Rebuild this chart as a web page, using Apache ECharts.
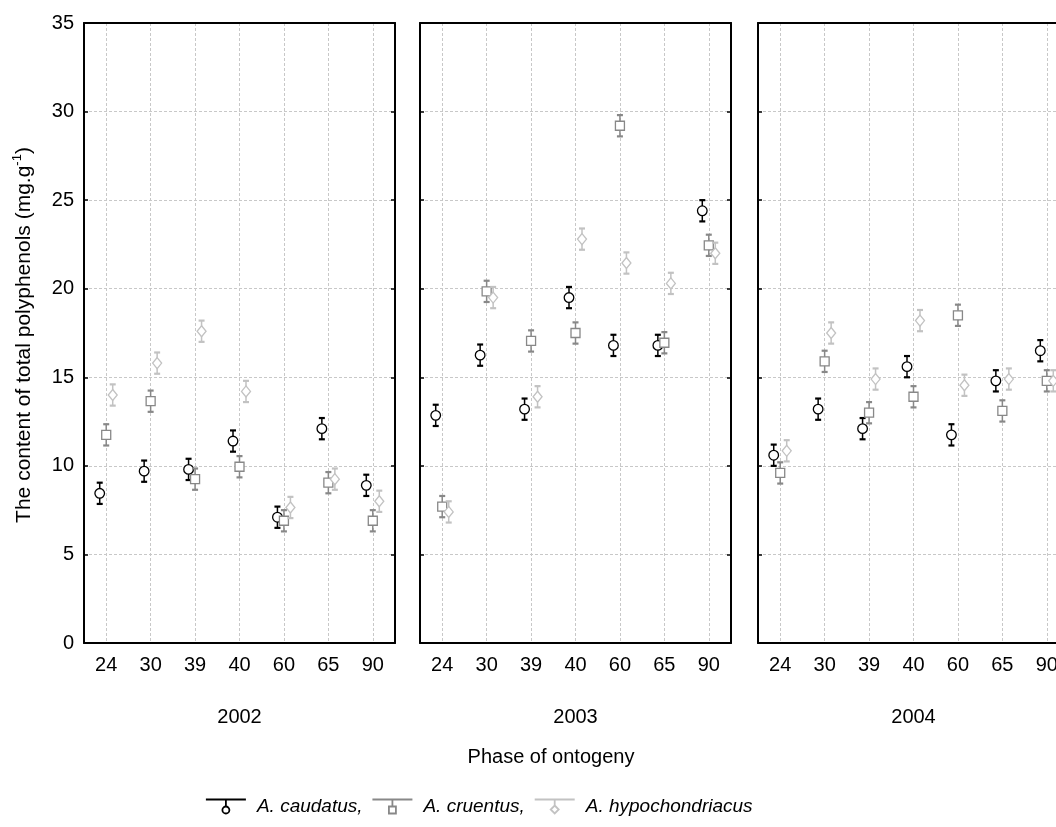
<!DOCTYPE html>
<html>
<head>
<meta charset="utf-8">
<script src="https://cdn.jsdelivr.net/npm/echarts@6/dist/echarts.min.js"></script>
<style>
html, body { margin: 0; padding: 0; background: #fff; overflow: hidden; }
#main { width: 1072px; height: 827px; }
</style>
</head>
<body>
<div id="main"></div>
<script>
/* data */
var phases = ['24', '30', '39', '40', '60', '65', '90'];
var years = ['2002', '2003', '2004'];
var species = ['A. caudatus', 'A. cruentus', 'A. hypochondriacus'];

var caudatus2002 = [8.45, 9.7, 9.8, 11.4, 7.1, 12.1, 8.9];
var cruentus2002 = [11.75, 13.65, 9.25, 9.95, 6.9, 9.05, 6.9];
var hypoch2002   = [14.0, 15.8, 17.6, 14.2, 7.65, 9.25, 8.0];

var caudatus2003 = [12.85, 16.25, 13.2, 19.5, 16.8, 16.8, 24.4];
var cruentus2003 = [7.7, 19.85, 17.05, 17.5, 29.2, 16.95, 22.45];
var hypoch2003   = [7.4, 19.5, 13.9, 22.8, 21.45, 20.3, 22.0];

var caudatus2004 = [10.6, 13.2, 12.1, 15.6, 11.75, 14.8, 16.5];
var cruentus2004 = [9.6, 15.9, 13.0, 13.9, 18.5, 13.1, 14.8];
var hypoch2004   = [10.85, 17.5, 14.9, 18.2, 14.55, 14.9, 14.8];

var errHalf = [0.6, 0.6, 0.6];   // half-length of the error bars per species

var panels = [
    [caudatus2002, cruentus2002, hypoch2002],
    [caudatus2003, cruentus2003, hypoch2003],
    [caudatus2004, cruentus2004, hypoch2004]
];

/* styling */
var colors = ['#000000', '#888888', '#c2c2c2'];
var shapes = ['circle', 'rect', 'diamond'];
var offsets = [-6.5, 0, 6.5];
var gridLefts = [84, 420, 758];
var font = 'Liberation Sans, Arial, sans-serif';
var fs = 20;

function makeRender(dx, shape, color) {
    return function (params, api) {
        var i = api.value(0), v = api.value(1), e = api.value(2);
        var c = api.coord([i, v]);
        var top = api.coord([i, v + e])[1];
        var bot = api.coord([i, v - e])[1];
        var x = c[0] + dx, y = c[1];
        var stem = { stroke: color, lineWidth: 1.5 };
        var cap = { stroke: color, lineWidth: 2.2 };
        var mk = { fill: '#fff', stroke: color, lineWidth: 1.3 };
        var kids = [
            { type: 'line', shape: { x1: x, y1: top, x2: x, y2: bot }, style: stem },
            { type: 'line', shape: { x1: x - 3, y1: top, x2: x + 3, y2: top }, style: cap },
            { type: 'line', shape: { x1: x - 3, y1: bot, x2: x + 3, y2: bot }, style: cap }
        ];
        if (shape === 'circle') {
            kids.push({ type: 'circle', shape: { cx: x, cy: y, r: 4.8 }, style: mk });
        } else if (shape === 'rect') {
            kids.push({ type: 'rect', shape: { x: x - 4.5, y: y - 4.5, width: 9, height: 9 }, style: mk });
        } else {
            kids.push({ type: 'polygon', shape: { points: [[x, y - 5.5], [x + 4.5, y], [x, y + 5.5], [x - 4.5, y]] }, style: mk });
        }
        return { type: 'group', children: kids };
    };
}

var grids = [], xAxes = [], yAxes = [], series = [];
var dashed = { color: '#c8c8c8', width: 1, type: [3, 2] };
var frame = { color: '#000', width: 2 };
var tickLine = { color: '#000', width: 1.5 };

years.forEach(function (yr, p) {
    grids.push({ left: gridLefts[p], width: 311, top: 23, bottom: 184 });
    // bottom axis with labels and year name
    xAxes.push({
        type: 'category', gridIndex: p, position: 'bottom', data: phases,
        boundaryGap: true,
        axisLine: { onZero: false, lineStyle: frame },
        axisTick: { inside: true, length: 4, alignWithLabel: true, interval: 0, lineStyle: tickLine },
        axisLabel: { color: '#000', fontSize: fs, fontFamily: font, margin: 12, interval: 0 },
        splitLine: { show: true, alignWithLabel: true, interval: 0, lineStyle: dashed },
        name: yr, nameLocation: 'middle', nameGap: 64,
        nameTextStyle: { color: '#000', fontSize: fs, fontFamily: font }
    });
    // top axis, ticks only
    xAxes.push({
        type: 'category', gridIndex: p, position: 'top', data: phases,
        boundaryGap: true,
        axisLine: { onZero: false, lineStyle: frame },
        axisTick: { inside: true, length: 4, alignWithLabel: true, interval: 0, lineStyle: tickLine },
        axisLabel: { show: false },
        splitLine: { show: false }
    });
    yAxes.push({
        type: 'value', gridIndex: p, position: 'left', min: 0, max: 35, interval: 5,
        axisLine: { show: true, onZero: false, lineStyle: frame },
        axisTick: { show: true, inside: true, length: 4, lineStyle: tickLine },
        axisLabel: { show: p === 0, color: '#000', fontSize: fs, fontFamily: font, margin: 10 },
        splitLine: { show: true, lineStyle: dashed }
    });
    yAxes.push({
        type: 'value', gridIndex: p, position: 'right', min: 0, max: 35, interval: 5,
        axisLine: { show: true, onZero: false, lineStyle: frame },
        axisTick: { show: true, inside: true, length: 4, lineStyle: tickLine },
        axisLabel: { show: false },
        splitLine: { show: false }
    });
    panels[p].forEach(function (vals, s) {
        series.push({
            type: 'custom',
            name: species[s],
            xAxisIndex: p * 2,
            yAxisIndex: p * 2,
            itemStyle: { color: colors[s] },
            renderItem: makeRender(offsets[s], shapes[s], colors[s]),
            encode: { x: 0, y: 1 },
            data: vals.map(function (v, i) { return [i, v, errHalf[s]]; }),
            z: 5 + s
        });
    });
});

var icons = [
    'path://M0,1 L40,1 M20,1 L20,8 M16.5,11.5 A3.5,3.5 0 1,0 23.5,11.5 A3.5,3.5 0 1,0 16.5,11.5 Z',
    'path://M0,1 L40,1 M20,1 L20,8 M16.5,8 L23.5,8 L23.5,15 L16.5,15 Z',
    'path://M0,1 L40,1 M20,1 L20,7 M20,7 L24,11 L20,15 L16,11 Z'
];
var legendLabels = ['A. caudatus,', 'A. cruentus,', 'A. hypochondriacus'];

var option = {
    animation: false,
    backgroundColor: '#fff',
    grid: grids,
    xAxis: xAxes,
    yAxis: yAxes,
    legend: {
        left: 200, top: 792,
        itemWidth: 40, itemHeight: 14, itemGap: 9,
        selectedMode: false,
        data: species.map(function (n, s) {
            return {
                name: n, icon: icons[s],
                itemStyle: { color: '#fff', borderColor: colors[s], borderWidth: 1.8 }
            };
        }),
        formatter: function (name) { return legendLabels[species.indexOf(name)]; },
        textStyle: { color: '#000', fontSize: 19, fontStyle: 'italic', fontFamily: font, padding: [0, 0, 0, 6] }
    },
    graphic: [{
        type: 'text', x: 551, y: 757,
        style: { text: 'Phase of ontogeny', fontSize: 20, fontFamily: font, fill: '#000', align: 'center', verticalAlign: 'middle' }
    }, {
        type: 'text', x: 24, y: 335, rotation: Math.PI / 2,
        style: {
            text: '{a|The content of total polyphenols (mg.g}{s|-1}{a|)}',
            align: 'center', verticalAlign: 'middle',
            rich: {
                a: { fontSize: 21, fontFamily: font, fill: '#000', lineHeight: 26 },
                s: { fontSize: 13, fontFamily: font, fill: '#000', lineHeight: 26, verticalAlign: 'top' }
            }
        }
    }],
    series: series
};

var myChart = echarts.init(document.getElementById('main'));
myChart.setOption(option);
</script>
</body>
</html>
